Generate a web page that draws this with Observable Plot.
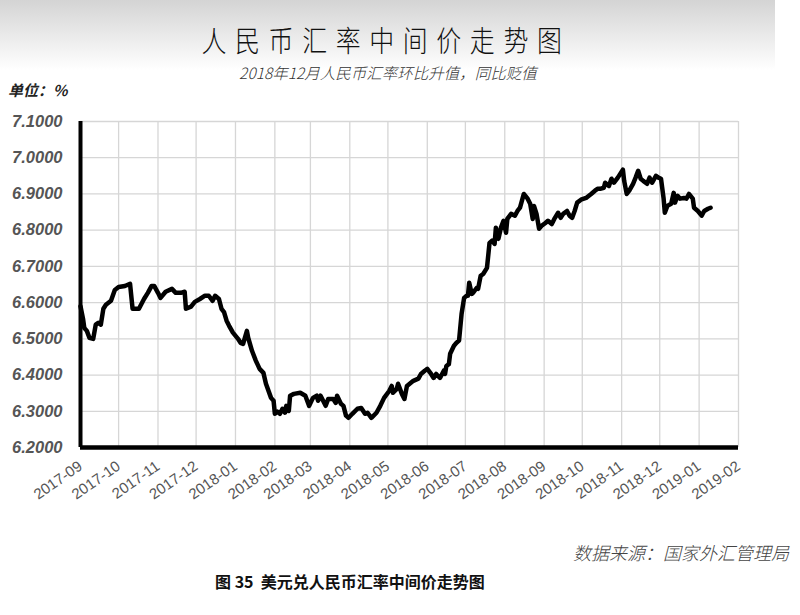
<!DOCTYPE html>
<html><head><meta charset="utf-8">
<script src="https://cdn.jsdelivr.net/npm/d3@7"></script>
<script src="https://cdn.jsdelivr.net/npm/@observablehq/plot@0.6"></script>
<style>
body{margin:0;background:#fff;width:800px;height:615px;overflow:hidden;position:relative;font-family:"Noto Sans CJK SC","Noto Sans",sans-serif}
#bg{position:absolute;left:0;top:0;width:775px;height:70px;background:linear-gradient(#d4d4d4,#ffffff)}
#chart{position:absolute;left:0;top:0}
.t{position:absolute;white-space:nowrap;line-height:1}
#title{left:0;width:772px;text-align:center;top:25px;font-size:29px;letter-spacing:10px;color:#111;font-weight:300;transform:scaleX(0.86);transform-origin:386px 0}
#sub{left:0;width:776px;text-align:center;top:65px;font-size:15.5px;font-style:italic;color:#333;font-weight:300}
#unit{left:8px;top:82px;font-size:15px;font-weight:bold;font-style:italic;color:#222}
#src{right:11px;top:543px;font-size:18px;font-style:italic;color:#444;font-weight:300}
#cap{left:215px;top:573px;font-size:16px;font-weight:bold;color:#111}
</style></head><body>
<div id="bg"></div>
<div id="chart"></div>
<div class="t" id="title">人民币汇率中间价走势图</div>
<div class="t" id="sub">2018年12月人民币汇率环比升值，同比贬值</div>
<div class="t" id="unit">单位：%</div>
<div class="t" id="src">数据来源：国家外汇管理局</div>
<div class="t" id="cap">图 35&nbsp; 美元兑人民币汇率中间价走势图</div>
<script>
const dates = [
"2017-09-01","2017-09-03","2017-09-04","2017-09-06","2017-09-08","2017-09-11","2017-09-13","2017-09-15","2017-09-17","2017-09-19","2017-09-21","2017-09-25","2017-09-28",
"2017-10-01","2017-10-06","2017-10-10","2017-10-12","2017-10-17","2017-10-21","2017-10-24","2017-10-27","2017-10-29",
"2017-11-01","2017-11-03","2017-11-07","2017-11-12","2017-11-15","2017-11-19","2017-11-22","2017-11-23","2017-11-27","2017-11-30",
"2017-12-04","2017-12-08","2017-12-11","2017-12-14","2017-12-16","2017-12-19","2017-12-21","2017-12-23","2017-12-25","2017-12-27","2017-12-30",
"2018-01-03","2018-01-05","2018-01-07","2018-01-10","2018-01-11","2018-01-14","2018-01-17","2018-01-20","2018-01-23","2018-01-25","2018-01-29","2018-01-31",
"2018-02-01","2018-02-03","2018-02-05","2018-02-07","2018-02-09","2018-02-10","2018-02-12","2018-02-13","2018-02-16","2018-02-21","2018-02-25","2018-02-28",
"2018-03-03","2018-03-06","2018-03-07","2018-03-09","2018-03-11","2018-03-13","2018-03-15","2018-03-19","2018-03-21","2018-03-22","2018-03-25","2018-03-27","2018-03-29","2018-03-31",
"2018-04-03","2018-04-07","2018-04-10","2018-04-13","2018-04-15","2018-04-18","2018-04-22","2018-04-25","2018-04-28",
"2018-05-02","2018-05-04","2018-05-05","2018-05-08","2018-05-09","2018-05-12","2018-05-14","2018-05-16","2018-05-21","2018-05-25","2018-05-27","2018-05-30",
"2018-06-01","2018-06-04","2018-06-06","2018-06-08","2018-06-11","2018-06-14","2018-06-15","2018-06-16","2018-06-18","2018-06-19","2018-06-22","2018-06-24","2018-06-26","2018-06-28","2018-06-30",
"2018-07-02","2018-07-03","2018-07-04","2018-07-06","2018-07-07","2018-07-10","2018-07-11","2018-07-13","2018-07-15","2018-07-18","2018-07-20","2018-07-22","2018-07-24","2018-07-25","2018-07-27","2018-07-29","2018-07-31",
"2018-08-02","2018-08-03","2018-08-06","2018-08-09","2018-08-11","2018-08-13","2018-08-16","2018-08-19","2018-08-21","2018-08-23","2018-08-24","2018-08-26","2018-08-28","2018-08-30",
"2018-09-02","2018-09-04","2018-09-07","2018-09-09","2018-09-12","2018-09-14","2018-09-16","2018-09-19","2018-09-21","2018-09-23","2018-09-25","2018-09-27","2018-09-30",
"2018-10-04","2018-10-08","2018-10-11","2018-10-13","2018-10-15","2018-10-18","2018-10-19","2018-10-22","2018-10-24","2018-10-26","2018-10-29","2018-10-31",
"2018-11-02","2018-11-03","2018-11-05","2018-11-07","2018-11-10","2018-11-12","2018-11-14","2018-11-16","2018-11-18","2018-11-21","2018-11-23","2018-11-25","2018-11-28","2018-11-30",
"2018-12-02","2018-12-04","2018-12-05","2018-12-07","2018-12-10","2018-12-12","2018-12-13","2018-12-15","2018-12-17","2018-12-20","2018-12-22","2018-12-24","2018-12-27","2018-12-28","2018-12-31",
"2019-01-03","2019-01-05","2019-01-08","2019-01-10"
];
const rates = [
6.59,6.555,6.53,6.522,6.503,6.50,6.539,6.544,6.539,6.583,6.594,6.605,6.635,
6.643,6.646,6.652,6.583,6.583,6.61,6.627,6.646,6.646,
6.627,6.613,6.63,6.638,6.627,6.627,6.63,6.583,6.589,6.602,
6.61,6.619,6.619,6.605,6.619,6.61,6.583,6.574,6.55,6.536,6.517,
6.50,6.489,6.486,6.522,6.503,6.467,6.44,6.417,6.406,6.376,6.337,6.329,
6.293,6.299,6.293,6.307,6.296,6.315,6.301,6.343,6.348,6.351,6.343,6.315,
6.337,6.343,6.329,6.343,6.329,6.315,6.334,6.334,6.323,6.343,6.321,6.315,6.288,6.282,
6.293,6.307,6.309,6.293,6.296,6.282,6.296,6.315,6.337,
6.356,6.37,6.351,6.362,6.376,6.348,6.334,6.37,6.384,6.39,6.403,6.412,
6.417,6.403,6.392,6.403,6.392,6.412,6.403,6.425,6.43,6.459,6.481,6.489,6.495,6.569,6.613,
6.619,6.619,6.655,6.624,6.627,6.641,6.638,6.674,6.679,6.696,6.765,6.771,6.762,6.807,6.776,6.807,6.826,
6.793,6.831,6.845,6.84,6.853,6.862,6.90,6.887,6.873,6.831,6.867,6.845,6.804,6.812,
6.82,6.826,6.817,6.831,6.848,6.834,6.845,6.853,6.84,6.834,6.853,6.876,6.884,
6.889,6.90,6.909,6.914,6.914,6.917,6.931,6.922,6.942,6.931,6.945,6.956,
6.967,6.936,6.90,6.909,6.928,6.945,6.964,6.942,6.936,6.928,6.945,6.931,6.95,6.945,
6.942,6.889,6.848,6.867,6.873,6.903,6.876,6.895,6.887,6.889,6.887,6.90,6.887,6.862,6.853,
6.84,6.853,6.859,6.862
];
const yTicks = [6.2,6.3,6.4,6.5,6.6,6.7,6.8,6.9,7.0,7.1];
const monthTicks = ["2017-09","2017-10","2017-11","2017-12","2018-01","2018-02","2018-03","2018-04","2018-05","2018-06","2018-07","2018-08","2018-09","2018-10","2018-11","2018-12","2019-01","2019-02"];

const data = dates.map((d, i) => ({date: new Date(d + "T00:00:00Z"), rate: rates[i]}));
const xt = monthTicks.map(m => new Date(m + "-01T00:00:00Z"));

const chart = Plot.plot({
  width: 800, height: 615,
  marginTop: 121, marginBottom: 168, marginLeft: 80, marginRight: 62,
  style: {background: "transparent", overflow: "visible"},
  x: {type: "utc", domain: [xt[0], xt[xt.length - 1]]},
  y: {domain: [6.2, 7.1]},
  marks: [
    Plot.gridY(yTicks, {stroke: "#d6d6d6", strokeOpacity: 1, strokeWidth: 1.3}),
    Plot.gridX(xt, {stroke: "#d6d6d6", strokeOpacity: 1, strokeWidth: 1.3}),
    Plot.axisY(yTicks, {tickFormat: d3.format(".4f"), tickSize: 0, tickPadding: 18, fontSize: 16.5, fontWeight: "bold", fontStyle: "italic", fontFamily: "Liberation Sans, Arial, sans-serif", fill: "#555", label: null}),
    Plot.axisX(xt, {tickFormat: d3.utcFormat("%Y-%m"), tickSize: 0, tickPadding: 17, tickRotate: -35, fontSize: 15, fontFamily: "Liberation Sans, Arial, sans-serif", fill: "#555", label: null}),
    Plot.ruleX([xt[0]], {stroke: "black", strokeWidth: 4}),
    Plot.ruleY([6.2], {stroke: "black", strokeWidth: 4.5}),
    Plot.line(data, {x: "date", y: "rate", stroke: "black", strokeWidth: 4.5, strokeLinejoin: "round", strokeLinecap: "round"})
  ]
});
document.getElementById("chart").appendChild(chart);
</script>
</body></html>
